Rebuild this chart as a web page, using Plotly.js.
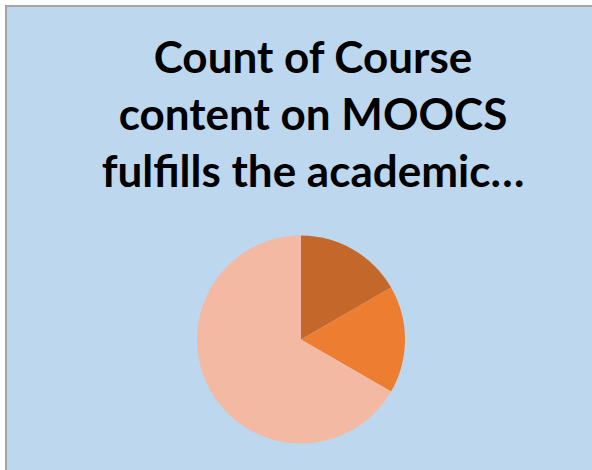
<!DOCTYPE html>
<html>
<head>
<meta charset="utf-8">
<script src="https://cdn.plot.ly/plotly-3.0.1.min.js"></script>
<style>
html, body { margin: 0; padding: 0; background: #ffffff; overflow: hidden; }
#bg { position: absolute; left: 5px; top: 5px; width: 700px; height: 600px;
      background: #BDD7EE; border-top: 2px solid #A5A5A5; border-left: 2px solid #A5A5A5; }
#chart { position: absolute; left: 0; top: 0; width: 592px; height: 470px; }
</style>
</head>
<body>
<div id="bg"></div>
<div id="chart"></div>
<script>
const categories = ["Agree", "Disagree", "Neutral"];
const counts = [1, 1, 4];
const sliceColors = ["#C4672A", "#ED7D31", "#F4B9A3"];
const titleText = "Count of Course<br>content on MOOCS<br>fulfills the academic…";

const W = 592, H = 470;
const cx = 301, cy = 339.5, r = 104;

Plotly.newPlot("chart", [{
  type: "pie",
  labels: categories,
  values: counts,
  sort: false,
  direction: "clockwise",
  rotation: 0,
  marker: { colors: sliceColors, line: { width: 0 } },
  textinfo: "none",
  hoverinfo: "none",
  domain: { x: [(cx - r) / W, (cx + r) / W], y: [1 - (cy + r) / H, 1 - (cy - r) / H] }
}], {
  width: W, height: H,
  margin: { l: 0, r: 0, t: 0, b: 0 },
  paper_bgcolor: "rgba(0,0,0,0)",
  plot_bgcolor: "rgba(0,0,0,0)",
  showlegend: false,
  title: {
    text: titleText,
    font: { family: "Lato", size: 44, color: "#000000", weight: "bold" },
    x: 313 / W, xanchor: "center",
    y: 1 - 73 / H, yanchor: "top",
    xref: "paper", yref: "paper"
  }
}, { staticPlot: true, displayModeBar: false });
</script>
</body>
</html>
